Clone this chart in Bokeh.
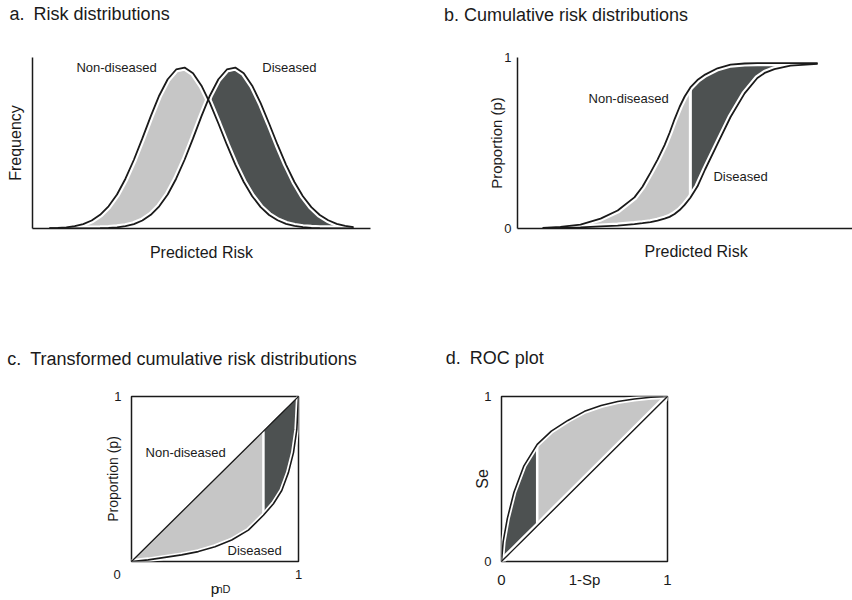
import numpy as np
from bokeh.plotting import figure
from bokeh.models import Range1d, FixedTicker, Label, Title, LinearAxis
from bokeh.layouts import column, row
from bokeh.embed import file_html
from bokeh.resources import INLINE

# ---------------- data ----------------
# a. risk distributions (frequency, fraction of panel height)
risk_a = [0.05, 0.075, 0.1, 0.125, 0.15, 0.175, 0.2, 0.225, 0.25, 0.275, 0.3, 0.325,
          0.35, 0.375, 0.4, 0.425, 0.45, 0.475, 0.5, 0.525, 0.55, 0.575, 0.6, 0.625,
          0.65, 0.675, 0.7, 0.725, 0.75, 0.775, 0.8, 0.825, 0.85, 0.875, 0.9, 0.925, 0.95]
freq_nondiseased = [0.0015, 0.003, 0.007, 0.014, 0.026, 0.047, 0.080, 0.130, 0.199, 0.291,
                    0.402, 0.527, 0.657, 0.778, 0.873, 0.930, 0.941, 0.908, 0.835, 0.733,
                    0.614, 0.490, 0.374, 0.272, 0.189, 0.125, 0.079, 0.048, 0.027, 0.015,
                    0.008, 0.004, 0.002, 0.001, 0.0, 0.0, 0.0]
freq_diseased = [0.0, 0.0, 0.0, 0.0, 0.0003, 0.0007, 0.0015, 0.003, 0.007, 0.014, 0.026,
                 0.047, 0.080, 0.130, 0.199, 0.291, 0.402, 0.527, 0.657, 0.778, 0.873,
                 0.930, 0.941, 0.908, 0.835, 0.733, 0.614, 0.490, 0.374, 0.272, 0.189,
                 0.125, 0.079, 0.048, 0.027, 0.015, 0.008]

# b. cumulative risk distributions
risk_b = [0.075, 0.128, 0.188, 0.248, 0.299, 0.349, 0.373, 0.397, 0.418, 0.439, 0.454,
          0.469, 0.484, 0.499, 0.516, 0.537, 0.560, 0.597, 0.636, 0.678, 0.716, 0.740,
          0.767, 0.815, 0.896]
cum_nondiseased = [0.004, 0.009, 0.023, 0.058, 0.105, 0.182, 0.244, 0.327, 0.403, 0.488,
                   0.560, 0.640, 0.712, 0.772, 0.825, 0.868, 0.900, 0.937, 0.958, 0.965,
                   0.967, 0.967, 0.967, 0.967, 0.967]
cum_diseased = [0.0, 0.003, 0.006, 0.012, 0.017, 0.026, 0.031, 0.037, 0.046, 0.058, 0.068,
                0.085, 0.108, 0.138, 0.180, 0.245, 0.345, 0.495, 0.652, 0.790, 0.880,
                0.912, 0.932, 0.952, 0.963]
threshold_b = 0.516

# c. transformed cumulative distributions
p_nd = [0.0, 0.1, 0.2, 0.3, 0.4, 0.5, 0.6, 0.7, 0.79, 0.85, 0.9, 0.94, 0.97, 0.99, 1.0]
p_d = [0.0, 0.01, 0.025, 0.04, 0.06, 0.09, 0.13, 0.19, 0.28, 0.35, 0.43, 0.54, 0.66, 0.80, 1.0]
threshold_c = 0.79

# d. ROC plot
one_minus_sp = [0.0, 0.01, 0.035, 0.075, 0.135, 0.215, 0.3, 0.4, 0.5, 0.6, 0.7, 0.8, 0.9, 1.0]
se = [0.0, 0.12, 0.26, 0.42, 0.58, 0.71, 0.79, 0.855, 0.91, 0.945, 0.97, 0.985, 0.995, 1.0]
threshold_d = 0.215

# ---------------- styles ----------------
LIGHT = "#c6c6c6"
DARK = "#4d5151"
INK = "#1a1a1a"
FONT = "Liberation Sans"


def make_fig(left, right, top, bottom, outline):
    p = figure(width=426, height=300, x_range=Range1d(0, 1), y_range=Range1d(0, 1),
               output_backend="svg", toolbar_location=None,
               min_border_left=left, min_border_right=right,
               min_border_top=top, min_border_bottom=bottom)
    p.grid.visible = False
    p.background_fill_color = "white"
    p.border_fill_color = "white"
    if outline:
        p.outline_line_color = INK
        p.outline_line_width = 1.5
    else:
        p.outline_line_color = None
    return p


def style_axes(p, xticks, yticks, line=True):
    for ax, ticks in ((p.xaxis[0], xticks), (p.yaxis[0], yticks)):
        ax.ticker = FixedTicker(ticks=ticks)
        ax.major_tick_line_color = None
        ax.minor_tick_line_color = None
        ax.major_tick_out = 0
        ax.major_tick_in = 0
        ax.minor_tick_out = 0
        ax.axis_line_color = INK if line else None
        ax.axis_line_width = 1.5
        ax.major_label_text_font = FONT
        ax.major_label_text_font_size = "13px"
        ax.major_label_text_color = INK
        ax.axis_label_text_font = FONT
        ax.axis_label_text_font_style = "normal"
        ax.axis_label_text_color = INK


def label_axis(p, at, text, standoff, size, place):
    # a line-less axis carrying a single label (panel titles, subscript)
    p.add_layout(LinearAxis(ticker=FixedTicker(ticks=[at]), major_label_overrides={at: text},
                            major_tick_out=0, major_tick_in=0, minor_tick_out=0, minor_tick_in=0,
                            major_label_standoff=standoff, axis_line_color=None,
                            major_tick_line_color=None, minor_tick_line_color=None,
                            major_label_text_font=FONT, major_label_text_font_size=f"{size}px",
                            major_label_text_color=INK), place)


def lab(p, text, x, y, size, align="left"):
    p.add_layout(Label(x=x, y=y, text=text, text_font=FONT, text_font_size=f"{size}px",
                       text_color=INK, text_align=align, text_baseline="middle"))


NB = "\u2002"  # en space between the panel letter and its title

# ---------------- panel a ----------------
pa = make_fig(32, 56, 57, 72, outline=False)
style_axes(pa, [], [])
pa.xaxis.axis_label = "Predicted Risk"
pa.yaxis.axis_label = "Frequency"
pa.xaxis.axis_label_text_font_size = "16px"
pa.yaxis.axis_label_text_font_size = "16px"
pa.xaxis.axis_label_standoff = 15
pa.yaxis.axis_label_standoff = 9

xa = np.array(risk_a)
na = np.array(freq_nondiseased)
da = np.array(freq_diseased)
diff = na - da
k = int(np.where(np.diff(np.sign(diff)) != 0)[0][0])
t = diff[k] / (diff[k] - diff[k + 1])
xc = xa[k] + t * (xa[k + 1] - xa[k])
yc = na[k] + t * (na[k + 1] - na[k])
pa.varea(x=list(xa[:k + 1]) + [xc], y1=list(da[:k + 1]) + [yc], y2=list(na[:k + 1]) + [yc],
         fill_color=LIGHT)
pa.varea(x=[xc] + list(xa[k + 1:]), y1=[yc] + list(na[k + 1:]), y2=[yc] + list(da[k + 1:]),
         fill_color=DARK)
for yy in (na, da):
    pa.line(xa, yy, line_color="white", line_width=6)
for yy in (na, da):
    pa.line(xa, yy, line_color=INK, line_width=1.8)

label_axis(pa, 0.169, "a." + NB + "Risk distributions", 34, 18, "above")
lab(pa, "Non-diseased", 0.130, 0.939, 13)
lab(pa, "Diseased", 0.680, 0.939, 13)

# ---------------- panel b ----------------
pb = make_fig(91, 0, 56, 72, outline=False)
style_axes(pb, [], [0, 1])
pb.yaxis.major_label_standoff = 6
pb.yaxis.axis_label = "Proportion (p)"
pb.yaxis.axis_label_text_font_size = "15px"
pb.yaxis.axis_label_standoff = -4

xb = np.array(risk_b)
nb = np.array(cum_nondiseased)
db = np.array(cum_diseased)
ib = risk_b.index(threshold_b)
pb.varea(x=xb[:ib + 1], y1=db[:ib + 1], y2=nb[:ib + 1], fill_color=LIGHT)
pb.varea(x=xb[ib:], y1=db[ib:], y2=nb[ib:], fill_color=DARK)
for yy in (nb, db):
    pb.line(xb, yy, line_color="white", line_width=6)
pb.segment(x0=[xb[ib]], y0=[db[ib]], x1=[xb[ib]], y1=[nb[ib]], line_color="white", line_width=3)
for yy in (nb, db):
    pb.line(xb, yy, line_color=INK, line_width=1.8)

label_axis(pb, 0.145, "b. Cumulative risk distributions", 33, 18, "above")
pb.add_layout(Title(text="Predicted Risk", align="left", offset=127, standoff=25,
                    text_font=FONT, text_font_size="16px", text_font_style="normal",
                    text_color=INK), "below")
lab(pb, "Non-diseased", 0.212, 0.759, 13)
lab(pb, "Diseased", 0.585, 0.302, 13)

# ---------------- panel c ----------------
pc = make_fig(131, 128, 95, 39, outline=True)
style_axes(pc, [0, 1], [1], line=False)
pc.yaxis.major_label_standoff = 10
pc.xaxis.major_label_standoff = 5
pc.xaxis.major_label_overrides = {0: "0" + "\u2007" * 4}
pc.yaxis.axis_label = "Proportion (p)"
pc.yaxis.axis_label_text_font_size = "14px"
pc.yaxis.axis_label_standoff = -10
pc.xaxis.axis_label = "p"
pc.xaxis.axis_label_text_font_size = "15px"
pc.xaxis.axis_label_standoff = -5

xcc = np.array(p_nd)
ycc = np.array(p_d)
ic = p_nd.index(threshold_c)
pc.varea(x=xcc[:ic + 1], y1=ycc[:ic + 1], y2=xcc[:ic + 1], fill_color=LIGHT)
pc.varea(x=xcc[ic:], y1=ycc[ic:], y2=xcc[ic:], fill_color=DARK)
pc.line(xcc, ycc, line_color="white", line_width=5)
pc.segment(x0=[xcc[ic]], y0=[ycc[ic]], x1=[xcc[ic]], y1=[xcc[ic]], line_color="white", line_width=2.5)
pc.line(xcc, xcc, line_color=INK, line_width=1.3)
pc.line(xcc, ycc, line_color=INK, line_width=1.6)

label_axis(pc, 0.302, "c." + NB + "Transformed cumulative risk distributions", 28, 18, "above")
label_axis(pc, 0.551, "nD", -17, 11, "below")   # subscript of the x-axis label
lab(pc, "Non-diseased", 0.084, 0.663, 13)
lab(pc, "Diseased", 0.575, 0.069, 13)

# ---------------- panel d ----------------
pd_ = make_fig(75, 185, 96, 39, outline=True)
style_axes(pd_, [0, 0.5, 1], [0, 1], line=False)
pd_.yaxis.major_label_standoff = 10
pd_.xaxis.major_label_standoff = 9
pd_.xaxis.major_label_text_font_size = "15px"
pd_.xaxis.major_label_overrides = {0.5: "1-Sp"}
pd_.yaxis.axis_label = "Se"
pd_.yaxis.axis_label_text_font_size = "16px"
pd_.yaxis.axis_label_standoff = -10

xd = np.array(one_minus_sp)
yd = np.array(se)
idd = one_minus_sp.index(threshold_d)
pd_.varea(x=xd[:idd + 1], y1=xd[:idd + 1], y2=yd[:idd + 1], fill_color=DARK)
pd_.varea(x=xd[idd:], y1=xd[idd:], y2=yd[idd:], fill_color=LIGHT)
pd_.line(xd, yd, line_color="white", line_width=5)
pd_.line(xd, xd, line_color="white", line_width=6)
pd_.segment(x0=[xd[idd]], y0=[xd[idd]], x1=[xd[idd]], y1=[yd[idd]], line_color="white", line_width=2.5)
pd_.line(xd, xd, line_color=INK, line_width=1.4)
pd_.line(xd, yd, line_color=INK, line_width=1.6)

label_axis(pd_, 0.0, "d." + NB + "ROC plot" + "\u2007\u2009", 29, 18, "above")

layout = column(row(pa, pb), row(pc, pd_))
open("out.html", "w").write(file_html(layout, INLINE))
